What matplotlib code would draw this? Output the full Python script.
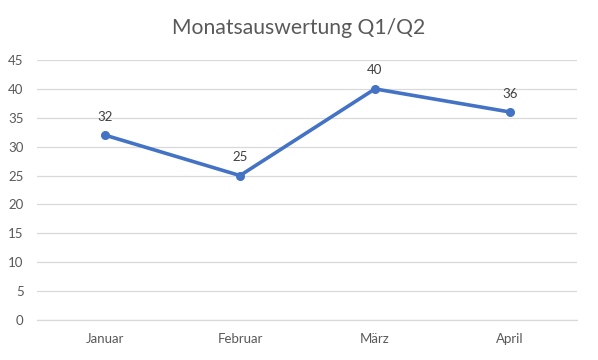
import matplotlib
matplotlib.use('Agg')
import matplotlib.pyplot as plt

months = ['Januar', 'Februar', 'März', 'April']
values = [32, 25, 40, 36]
yticks = [0, 5, 10, 15, 20, 25, 30, 35, 40, 45]

plt.rcParams['font.family'] = ['Lato', 'DejaVu Sans']

fig = plt.figure(figsize=(5.98, 3.6), dpi=100)
ax = fig.add_axes([0.0627, 0.1111, 0.9030, 0.7222])

x = range(len(months))
ax.plot(x, values, color='#4472C4', linewidth=2.6, marker='o', markersize=5.5,
        solid_capstyle='round', zorder=3)
for i, v in zip(x, values):
    ax.annotate(str(v), (i, v), xytext=(0, 9), textcoords='offset points',
                ha='center', va='bottom', fontsize=9.5, color='#404040')

ax.set_xlim(-0.5, len(months) - 0.5)
ax.set_ylim(0, 45)
ax.set_yticks(yticks)
ax.set_xticks(list(x))
ax.set_xticklabels(months)
ax.grid(axis='y', color='#D9D9D9', linewidth=0.9)
ax.set_axisbelow(True)
for s in ['top', 'right', 'left']:
    ax.spines[s].set_visible(False)
ax.spines['bottom'].set_color('#D9D9D9')
ax.spines['bottom'].set_linewidth(0.9)
ax.tick_params(axis='both', length=0, colors='#595959', labelsize=9.5)
ax.tick_params(axis='y', pad=10)
ax.tick_params(axis='x', pad=9)

fig.suptitle('Monatsauswertung Q1/Q2', y=0.95, fontsize=15.2, color='#595959')

fig.savefig('out.png', dpi=100)
